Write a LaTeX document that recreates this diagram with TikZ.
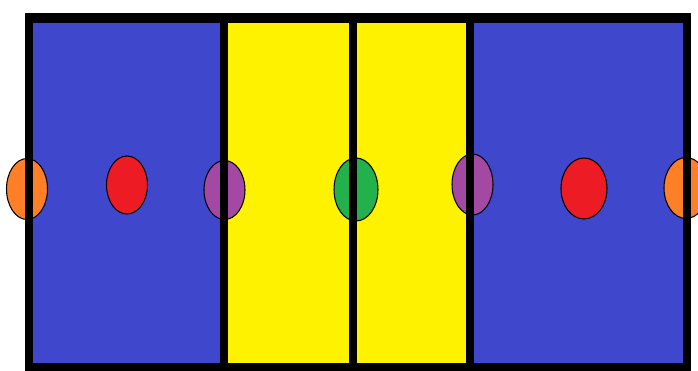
\documentclass[tikz,border=0pt]{standalone}
\usepackage{tikz}
\usetikzlibrary{shapes.geometric}
\definecolor{court}{RGB}{63,72,204}
\definecolor{zone}{RGB}{255,242,0}
\definecolor{dotred}{RGB}{237,28,36}
\definecolor{dotorange}{RGB}{255,127,39}
\definecolor{dotpurple}{RGB}{163,73,164}
\definecolor{dotgreen}{RGB}{34,177,76}
\begin{document}
\begin{tikzpicture}[
          x=0.02cm, y=-0.02cm,
          spot/.style={ellipse, draw=black, line width=0.6pt, inner sep=0pt,
                       minimum width=0.82cm, minimum height=1.22cm},
          wall/.style={draw=black, line width=0.16cm}
        ]
        \useasboundingbox (0,0) rectangle (698,370);
        \fill[court] (29,17) rectangle (224,367);
        \fill[zone]  (224,17) rectangle (470,367);
        \fill[court] (470,17) rectangle (687,367);
        \node[spot, fill=dotorange] (o1) at (27,189) {};
        \node[spot, fill=dotred, minimum height=1.16cm] (r1) at (127,185) {};
        \node[spot, fill=dotpurple, minimum height=1.18cm] (p1) at (224.5,190) {};
        \node[spot, fill=dotgreen, minimum width=0.88cm, minimum height=1.26cm] (g) at (356,189.5) {};
        \node[spot, fill=dotpurple] (p2) at (472.5,184.5) {};
        \node[spot, fill=dotred, minimum width=0.92cm] (r2) at (584,188.5) {};
        \node[spot, fill=dotorange, minimum width=0.88cm] (o2) at (686,188) {};
        % court lines
        \draw[wall] (29,17) rectangle (687,367);
        \draw[wall, line width=0.2cm] (25,17.5) -- (691,17.5);
        \draw[wall] (224,17) -- (224,367);
        \draw[wall] (353,17) -- (353,367);
        \draw[wall] (470,17) -- (470,367);
      \end{tikzpicture}
\end{document}
